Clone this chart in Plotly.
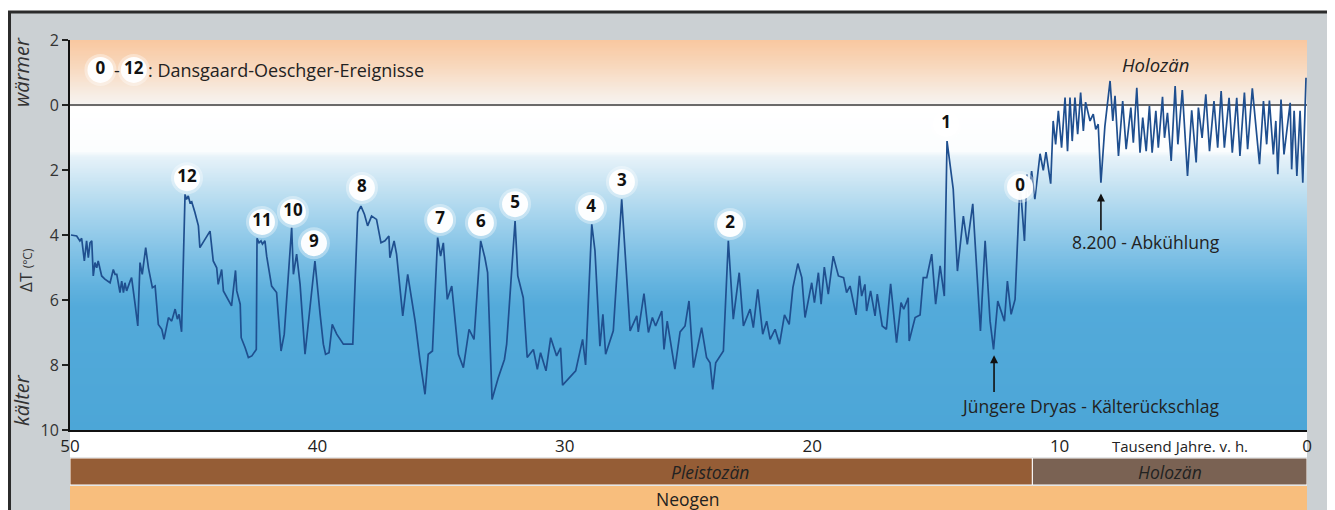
import numpy as np
import plotly.graph_objects as go

# ---------------- data ----------------
age_kyr = [
    49.96, 49.73, 49.60, 49.53, 49.42, 49.33, 49.26, 49.19, 49.12, 49.06, 48.99, 48.92, 48.86, 48.79,
    48.72, 48.59, 48.45, 48.38, 48.25, 48.18, 48.11, 47.98, 47.91, 47.84, 47.78, 47.71, 47.57, 47.51,
    47.37, 47.26, 47.17, 47.08, 46.94, 46.83, 46.67, 46.56, 46.43, 46.29, 46.20, 46.02, 45.89, 45.75,
    45.66, 45.59, 45.49, 45.35, 45.29, 45.22, 45.15, 45.08, 44.95, 44.81, 44.75, 44.54, 44.34, 44.21,
    44.07, 44.01, 43.87, 43.80, 43.60, 43.47, 43.31, 43.26, 43.12, 43.08, 42.92, 42.79, 42.65, 42.47,
    42.44, 42.36, 42.28, 42.22, 42.12, 42.05, 41.85, 41.65,
    41.47, 41.34, 41.04, 40.97, 40.84, 40.70, 40.50, 40.10, 39.89, 39.76, 39.67, 39.53, 39.40, 39.22,
    38.95, 38.57, 38.37, 38.24, 38.10, 37.97, 37.81, 37.61, 37.43, 37.27, 37.11, 37.07, 36.90, 36.80,
    36.55, 36.35, 36.05, 35.85, 35.65, 35.52, 35.35, 35.14, 35.02, 34.91, 34.75, 34.57, 34.30, 34.10,
    33.87, 33.67, 33.40,
    33.23, 33.12, 32.94, 32.69, 32.44, 32.35, 32.01, 31.90, 31.68, 31.52, 31.27, 31.11, 30.98, 30.76,
    30.57, 30.33, 30.17, 30.09, 29.86, 29.56, 29.28, 29.16, 28.91, 28.78, 28.58, 28.46, 28.35, 28.04,
    27.70, 27.57, 27.36, 27.09, 27.03, 26.80, 26.62, 26.46, 26.33, 26.08, 25.99, 25.86, 25.55, 25.34,
    25.14, 24.98, 24.80,
    24.47, 24.27, 24.13, 24.02, 23.90, 23.59, 23.39, 23.19, 22.95, 22.78, 22.51, 22.38, 22.20, 22.00,
    21.84, 21.70, 21.50, 21.32, 21.12, 20.93, 20.78, 20.58, 20.42, 20.29, 20.02, 19.91, 19.75, 19.64,
    19.51, 19.35, 19.15, 18.94, 18.73, 18.61, 18.47, 18.23, 18.09, 18.00, 17.87, 17.80, 17.64, 17.46,
    17.37, 17.17, 17.00, 16.83, 16.59, 16.41, 16.30, 16.12,
    16.08, 15.84, 15.64, 15.51, 15.37, 15.17, 15.01, 14.83, 14.66, 14.55, 14.30, 14.13, 13.89, 13.73,
    13.51, 13.20, 13.01, 12.81, 12.67, 12.50, 12.23, 12.11, 11.96, 11.80, 11.60, 11.42, 11.32, 11.24,
    11.13, 11.00, 10.79, 10.66, 10.55, 10.36,
    10.26, 10.16, 10.05, 9.92, 9.78, 9.68, 9.58, 9.49, 9.38, 9.27, 9.15, 9.04, 8.95, 8.77, 8.64, 8.54,
    8.44, 8.33, 8.17,
    7.96, 7.85, 7.76, 7.62, 7.45, 7.31, 7.12, 7.02, 6.88, 6.75, 6.64, 6.50, 6.37, 6.26, 6.11, 6.01,
    5.84, 5.76, 5.64, 5.49, 5.33, 5.22, 5.04, 4.83, 4.66, 4.48, 4.39, 4.24, 4.09, 3.94, 3.76, 3.61,
    3.47, 3.34, 3.15, 3.02, 2.84, 2.71, 2.53, 2.40, 2.21, 1.92, 1.76, 1.63, 1.52, 1.36, 1.26, 1.18,
    1.05, 0.93, 0.68, 0.62, 0.52, 0.41, 0.28, 0.17, 0.04,
]
cooling_deg = [
    4.00, 4.03, 4.18, 4.10, 4.80, 4.18, 4.70, 4.24, 4.18, 5.26, 4.85, 5.01, 4.80, 5.01,
    5.26, 5.36, 5.42, 5.47, 5.06, 5.21, 5.21, 5.77, 5.42, 5.77, 5.47, 5.72, 5.42, 5.31,
    6.13, 6.80, 4.85, 5.21, 4.39, 5.01, 5.62, 5.57, 6.75, 6.90, 7.21, 6.54, 6.65, 6.28,
    6.59, 6.44, 6.98, 2.75, 2.90, 2.80, 3.01, 2.98, 3.31, 3.72, 4.39, 4.13, 3.88, 4.80,
    5.01, 5.52, 5.06, 5.72, 5.98, 6.18, 5.09, 5.72, 6.13, 7.16, 7.47, 7.77, 7.72, 7.52,
    4.10, 4.24, 4.18, 4.28, 4.18, 4.65, 5.57, 5.77,
    7.57, 7.05, 3.77, 5.21, 4.59, 5.52, 7.67, 4.80, 6.44, 7.36, 7.67, 7.62, 6.75, 7.05,
    7.36, 7.36, 3.31, 3.11, 3.36, 3.72, 3.42, 3.52, 4.24, 4.18, 4.03, 4.70, 4.18, 4.59,
    6.49, 5.21, 6.65, 7.88, 8.90, 7.67, 7.57, 4.08, 4.65, 4.24, 5.98, 5.57, 7.67, 8.08,
    6.90, 7.21, 4.18,
    4.70, 5.16, 9.06, 8.39, 7.83, 7.36, 3.57, 5.26, 5.93, 7.77, 7.52, 8.13, 7.62, 8.18,
    7.16, 7.72, 7.47, 8.62, 8.44, 8.18, 7.21, 8.00, 3.67, 4.49, 7.42, 6.44, 7.67, 6.95,
    2.90, 4.39, 6.95, 6.49, 6.98, 5.80, 7.00, 6.54, 6.80, 6.34, 7.52, 6.65, 8.13, 6.98,
    6.80, 6.03, 8.08,
    6.85, 7.77, 7.93, 8.75, 7.93, 7.57, 4.18, 6.59, 5.16, 6.80, 6.28, 6.85, 5.67, 7.05,
    6.65, 7.21, 6.90, 7.36, 6.46, 6.75, 5.62, 4.88, 5.31, 6.54, 5.47, 6.08, 5.16, 6.13,
    4.99, 5.82, 4.65, 5.26, 5.31, 5.77, 5.57, 6.46, 5.26, 5.88, 5.52, 6.34, 5.72, 6.49,
    5.82, 6.80, 6.90, 5.50, 7.31, 6.08, 6.28, 5.93,
    7.26, 6.54, 6.46, 5.31, 5.31, 4.59, 6.13, 4.95, 5.88, 1.11, 2.59, 5.11, 3.42, 4.29,
    3.04, 6.95, 4.18, 6.65, 7.52, 6.03, 6.65, 5.42, 6.44, 5.98, 2.39, 4.18, 2.13, 2.75,
    2.03, 2.90, 1.50, 2.01, 1.45, 2.42,
    0.49, 1.21, 0.18, 1.31, -0.23, 1.42, -0.23, 1.11, -0.23, 0.90, -0.38, 0.80, -0.09, 0.49, 0.28, 0.75,
    0.59, 2.39, 0.66,
    -0.74, 0.49, -0.28, 1.57, -0.12, 1.36, 0.08, 1.16, -0.53, 1.47, 0.39, 1.42, 0.03, 1.47, 0.18, 1.31,
    -0.25, 1.01, 0.24, 1.72, -0.58, 1.21, -0.46, 2.18, 0.16, 1.77, 0.08, 1.01, -0.33, 1.42, -0.12, 1.31,
    -0.43, 1.31, -0.22, 1.47, -0.22, 1.57, -0.38, 1.36, -0.51, 1.82, -0.12, 1.21, -0.14, 1.52, 0.49, 2.13,
    -0.17, 1.52, -0.07, 1.98, 0.18, 2.18, 0.18, 2.39, -0.84,
]

event_labels = ["12", "11", "10", "9", "8", "7", "6", "5", "4", "3", "2", "1", "0"]
event_label_x = [45.27, 42.24, 40.99, 40.14, 38.20, 35.04, 33.39, 32.01, 28.94, 27.69, 23.32, 14.59, 11.60]
event_label_y = [2.25, 3.60, 3.29, 4.25, 2.55, 3.54, 3.63, 3.05, 3.17, 2.37, 3.66, 0.58, 2.52]

legend_labels = ["0", "12"]
legend_x = [48.77, 47.42]
legend_y = [-1.08, -1.08]

x_tickvals = [50, 40, 30, 20, 10, 0]
y_tickvals = [-2, 0, 2, 4, 6, 8, 10]
y_ticktext = ["2", "0", "2", "4", "6", "8", "10"]

holocene_start_kyr = 11.1
event_8200_x = 8.33
dryas_x = 12.65

# ---------------- figure ----------------
FONT = "Open Sans"
TXT = "#222222"

fig = go.Figure()

# background gradient
bg_y = np.linspace(-2, 10, 241)
bg_scale = [
    [0.0, "#f9c8a0"], [0.0667, "#f8d8bd"], [0.1417, "#f7eee6"], [0.1625, "#f6f3f0"],
    [0.1708, "#ffffff"], [0.2833, "#fbfdfe"], [0.30, "#e6f2f9"], [0.375, "#c4e2f2"],
    [0.4583, "#a2d2ec"], [0.5417, "#82c2e6"], [0.625, "#63b3df"], [0.6833, "#53aada"],
    [1.0, "#4ca6d7"],
]
fig.add_trace(go.Heatmap(
    x=[0, 50], y=bg_y, z=[[v, v] for v in bg_y], colorscale=bg_scale, zmin=-2, zmax=10,
    zsmooth="best", showscale=False, hoverinfo="skip",
))

# zero reference line
fig.add_trace(go.Scatter(x=[50, 0], y=[0, 0], mode="lines",
                         line=dict(color="#6a6a6a", width=2), hoverinfo="skip", showlegend=False))

# temperature curve
fig.add_trace(go.Scatter(x=age_kyr, y=cooling_deg, mode="lines",
                         line=dict(color="#1f4f8f", width=1.7), showlegend=False))

# event label circles
fig.add_trace(go.Scatter(
    x=event_label_x + legend_x, y=event_label_y + legend_y, mode="markers",
    marker=dict(size=32, color="rgba(255,255,255,0.35)", line=dict(width=0)),
    hoverinfo="skip", showlegend=False))
fig.add_trace(go.Scatter(
    x=event_label_x + legend_x, y=event_label_y + legend_y, mode="markers+text",
    text=["<b>%s</b>" % t for t in event_labels + legend_labels], textposition="middle center",
    textfont=dict(family=FONT, size=17, color="#111"),
    marker=dict(size=26, color="rgba(255,255,255,0.95)", line=dict(width=0)),
    hoverinfo="skip", showlegend=False))

shapes = [
    # grey frame
    dict(type="rect", xref="paper", yref="paper", x0=-0.0489, x1=1.0186, y0=-0.35, y1=1.0718,
         fillcolor="#cbd0d3", line=dict(color="#2b2b2b", width=3), layer="below"),
    # white strip for x tick labels
    dict(type="rect", xref="paper", yref="paper", x0=0, x1=1, y0=-0.0692, y1=0,
         fillcolor="white", line=dict(width=0), layer="below"),
    # epoch bands
    dict(type="rect", xref="x", yref="paper", x0=50, x1=holocene_start_kyr, y0=-0.141, y1=-0.0718,
         fillcolor="#955d36", line=dict(color="white", width=1), layer="below"),
    dict(type="rect", xref="x", yref="paper", x0=holocene_start_kyr, x1=0, y0=-0.141, y1=-0.0718,
         fillcolor="#7a6253", line=dict(color="white", width=1), layer="below"),
    dict(type="rect", xref="paper", yref="paper", x0=0, x1=1, y0=-0.35, y1=-0.1436,
         fillcolor="#f8be7d", line=dict(width=0), layer="below"),
]


def ann(text, x, y, size=17, paper=True, color=TXT, angle=0, xanchor="center"):
    d = dict(text=text, x=x, y=y, showarrow=False, xanchor=xanchor, yanchor="middle",
             textangle=angle, font=dict(family=FONT, size=size, color=color))
    if paper:
        d.update(xref="paper", yref="paper")
    return d


annotations = [
    ann("<i>Pleistozän</i>", 0.517, -0.1065, size=17.5),
    ann("<i>Holozän</i>", 0.889, -0.1065, size=17.5),
    ann("Neogen", 0.4996, -0.177, size=17.5),
    ann("Tausend Jahre. v. h.", 0.897, -0.041, size=15),
    ann("<i>wärmer</i>", -0.0388, 0.918, size=20, color="#333", angle=-90),
    ann("ΔT <span style='font-size:12px'>(°C)</span>", -0.0365, 0.41, size=17, color="#333", angle=-90),
    ann("<i>kälter</i>", -0.0388, 0.077, size=20, color="#333", angle=-90),
    ann("-", 48.10, -1.08, size=18, paper=False),
    ann(": Dansgaard-Oeschger-Ereignisse", 46.93, -1.08, size=18, paper=False, xanchor="left"),
    ann("<i>Holozän</i>", 6.14, -1.26, size=18.5, paper=False),
    ann("8.200 - Abkühlung", 6.51, 4.22, size=17.5, paper=False),
    ann("Jüngere Dryas - Kälterückschlag", 8.77, 9.26, size=17.5, paper=False),
    dict(text="", x=event_8200_x, y=2.72, ax=event_8200_x, ay=3.9, axref="x", ayref="y",
         showarrow=True, arrowhead=2, arrowsize=1, arrowwidth=1.6, arrowcolor="#111"),
    dict(text="", x=dryas_x, y=7.7, ax=dryas_x, ay=8.88, axref="x", ayref="y",
         showarrow=True, arrowhead=2, arrowsize=1, arrowwidth=1.6, arrowcolor="#111"),
]

# page body has an 8px margin: shift the figure so the plot lands where the reference has it
fig.update_layout(
    width=1327, height=502,
    margin=dict(l=62, r=28, t=32, b=80),
    paper_bgcolor="white", plot_bgcolor="#4ca6d7",
    shapes=shapes, annotations=annotations, showlegend=False,
    xaxis=dict(range=[50, 0], tickvals=x_tickvals, ticks="", showgrid=False, zeroline=False,
               showline=True, linecolor="#111", linewidth=2,
               tickfont=dict(family=FONT, size=17, color=TXT)),
    yaxis=dict(range=[10, -2], tickvals=y_tickvals, ticktext=y_ticktext, ticks="outside",
               ticklen=6, tickwidth=1.5, tickcolor="#222", showgrid=False, zeroline=False,
               showline=True, linecolor="#111", linewidth=2,
               tickfont=dict(family=FONT, size=16, color="#333")),
)

fig.write_html("out.html")
